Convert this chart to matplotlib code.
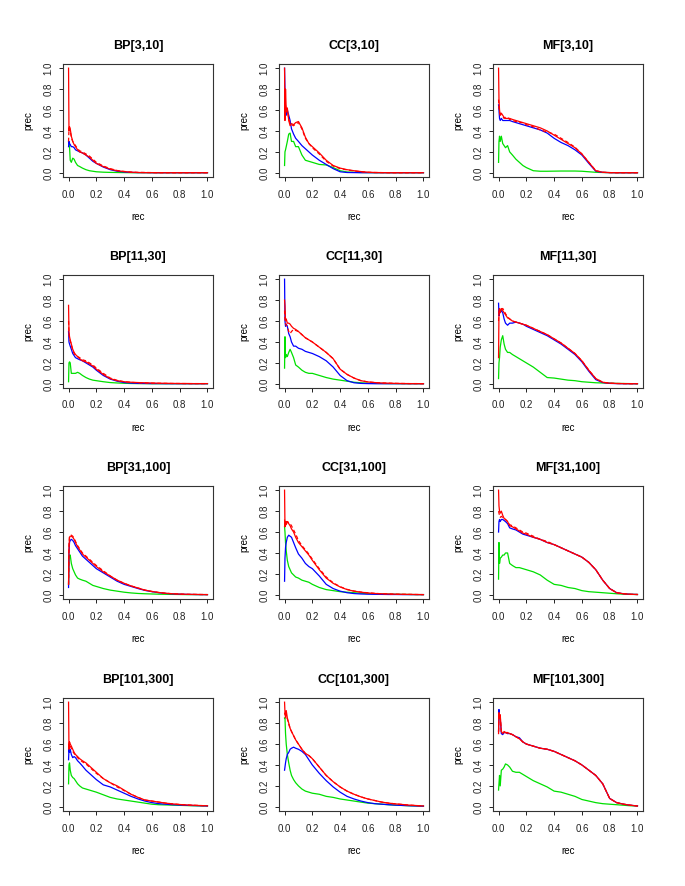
import matplotlib
matplotlib.use("Agg")
import matplotlib.pyplot as plt
import numpy as np

plt.rcParams['font.family'] = ['Liberation Sans', 'DejaVu Sans']

# recall grid shared by all curves
rec = [0, 0.003, 0.007, 0.012, 0.02, 0.03, 0.04, 0.05, 0.065, 0.08,
       0.1, 0.125, 0.15, 0.175, 0.2, 0.25, 0.3, 0.35, 0.4, 0.45,
       0.5, 0.55, 0.6, 0.65, 0.7, 0.75, 0.8, 0.85, 0.9, 0.95, 1.0]

titles = ["BP[3,10]", "CC[3,10]", "MF[3,10]",
          "BP[11,30]", "CC[11,30]", "MF[11,30]",
          "BP[31,100]", "CC[31,100]", "MF[31,100]",
          "BP[101,300]", "CC[101,300]", "MF[101,300]"]

# ---- BP[3,10]
bp3_blue = [0.25, 0.30, 0.28, 0.27, 0.25, 0.25, 0.24, 0.22, 0.21, 0.20,
            0.19, 0.17, 0.14, 0.11, 0.09, 0.055, 0.03, 0.015, 0.008, 0.004,
            0.002, 0.002, 0.001, 0.001, 0.001, 0.001, 0.001, 0.001, 0.001, 0.001, 0.001]
bp3_red = [1.0, 0.40, 0.44, 0.42, 0.35, 0.30, 0.27, 0.25, 0.22, 0.20,
           0.19, 0.17, 0.15, 0.12, 0.09, 0.06, 0.035, 0.02, 0.012, 0.006,
           0.003, 0.002, 0.002, 0.001, 0.001, 0.001, 0.001, 0.001, 0.001, 0.001, 0.001]
bp3_dash = [0.30, 0.42, 0.43, 0.40, 0.34, 0.30, 0.28, 0.26, 0.23, 0.21,
            0.20, 0.18, 0.16, 0.13, 0.10, 0.065, 0.04, 0.022, 0.013, 0.007,
            0.004, 0.003, 0.002, 0.001, 0.001, 0.001, 0.001, 0.001, 0.001, 0.001, 0.001]
bp3_green = [0.30, 0.28, 0.25, 0.12, 0.10, 0.14, 0.13, 0.10, 0.07, 0.06,
             0.045, 0.03, 0.02, 0.015, 0.01, 0.006, 0.004, 0.003, 0.002, 0.001,
             0.001, 0.001, 0.001, 0.001, 0.001, 0.001, 0.001, 0.001, 0.001, 0.001, 0.001]

# ---- CC[3,10]
cc3_blue = [1.0, 0.80, 0.60, 0.55, 0.60, 0.55, 0.50, 0.42, 0.37, 0.33,
            0.30, 0.26, 0.23, 0.20, 0.17, 0.12, 0.08, 0.04, 0.01, 0.003,
            0.002, 0.001, 0.001, 0.001, 0.001, 0.001, 0.001, 0.001, 0.001, 0.001, 0.001]
cc3_red = [1.0, 0.50, 0.80, 0.60, 0.62, 0.50, 0.45, 0.47, 0.46, 0.48,
           0.49, 0.43, 0.34, 0.28, 0.25, 0.19, 0.12, 0.07, 0.045, 0.03,
           0.02, 0.012, 0.006, 0.003, 0.002, 0.001, 0.001, 0.001, 0.001, 0.001, 0.001]
cc3_dash = [0.60, 0.60, 0.65, 0.58, 0.60, 0.52, 0.47, 0.46, 0.45, 0.47,
            0.48, 0.42, 0.33, 0.28, 0.24, 0.18, 0.11, 0.065, 0.04, 0.028,
            0.018, 0.01, 0.005, 0.003, 0.002, 0.001, 0.001, 0.001, 0.001, 0.001, 0.001]
cc3_green = [0.07, 0.20, 0.22, 0.25, 0.30, 0.37, 0.38, 0.30, 0.30, 0.25,
             0.25, 0.17, 0.12, 0.11, 0.10, 0.08, 0.075, 0.05, 0.02, 0.008,
             0.005, 0.003, 0.002, 0.001, 0.001, 0.001, 0.001, 0.001, 0.001, 0.001, 0.001]

# ---- MF[3,10]
mf3_blue = [0.65, 0.60, 0.52, 0.50, 0.52, 0.50, 0.50, 0.50, 0.50, 0.50,
            0.49, 0.48, 0.47, 0.46, 0.45, 0.43, 0.41, 0.38, 0.33, 0.29,
            0.26, 0.22, 0.17, 0.09, 0.015, 0.004, 0.002, 0.001, 0.001, 0.001, 0.001]
mf3_red = [1.0, 0.70, 0.60, 0.55, 0.57, 0.55, 0.53, 0.52, 0.52, 0.52,
           0.51, 0.50, 0.49, 0.48, 0.47, 0.45, 0.43, 0.40, 0.36, 0.32,
           0.28, 0.24, 0.18, 0.10, 0.02, 0.005, 0.002, 0.001, 0.001, 0.001, 0.001]
mf3_dash = [0.70, 0.62, 0.58, 0.56, 0.55, 0.54, 0.52, 0.53, 0.53, 0.51,
            0.50, 0.49, 0.48, 0.48, 0.46, 0.44, 0.41, 0.39, 0.37, 0.33,
            0.29, 0.245, 0.18, 0.10, 0.02, 0.005, 0.002, 0.001, 0.001, 0.001, 0.001]
mf3_green = [0.10, 0.30, 0.35, 0.30, 0.35, 0.28, 0.26, 0.24, 0.26, 0.20,
             0.17, 0.13, 0.10, 0.07, 0.05, 0.02, 0.015, 0.015, 0.016, 0.017,
             0.017, 0.017, 0.015, 0.01, 0.005, 0.003, 0.002, 0.001, 0.001, 0.001, 0.001]

# ---- BP[11,30]
bp11_blue = [0.50, 0.40, 0.38, 0.36, 0.33, 0.29, 0.27, 0.25, 0.24, 0.23,
             0.22, 0.20, 0.18, 0.16, 0.13, 0.08, 0.045, 0.025, 0.012, 0.007,
             0.004, 0.003, 0.002, 0.002, 0.001, 0.001, 0.001, 0.001, 0.001, 0.001, 0.001]
bp11_red = [0.75, 0.50, 0.45, 0.42, 0.38, 0.33, 0.30, 0.28, 0.26, 0.24,
            0.22, 0.21, 0.19, 0.17, 0.14, 0.09, 0.05, 0.03, 0.02, 0.015,
            0.012, 0.01, 0.008, 0.006, 0.005, 0.004, 0.003, 0.003, 0.002, 0.002, 0.002]
bp11_dash = [0.60, 0.48, 0.44, 0.41, 0.37, 0.32, 0.29, 0.27, 0.26, 0.25,
             0.23, 0.22, 0.20, 0.18, 0.15, 0.10, 0.055, 0.033, 0.02, 0.014,
             0.01, 0.008, 0.006, 0.005, 0.004, 0.003, 0.003, 0.002, 0.002, 0.002, 0.002]
bp11_green = [0.02, 0.20, 0.21, 0.20, 0.10, 0.10, 0.10, 0.10, 0.11, 0.10,
              0.08, 0.06, 0.045, 0.035, 0.03, 0.02, 0.012, 0.008, 0.005, 0.003,
              0.002, 0.002, 0.001, 0.001, 0.001, 0.001, 0.001, 0.001, 0.001, 0.001, 0.001]

# ---- CC[11,30]
cc11_blue = [1.0, 0.60, 0.55, 0.57, 0.55, 0.48, 0.45, 0.40, 0.36, 0.36,
             0.34, 0.33, 0.31, 0.30, 0.29, 0.26, 0.22, 0.16, 0.08, 0.03,
             0.01, 0.004, 0.002, 0.001, 0.001, 0.001, 0.001, 0.001, 0.001, 0.001, 0.001]
cc11_red = [0.80, 0.75, 0.60, 0.62, 0.58, 0.58, 0.57, 0.55, 0.53, 0.52,
            0.50, 0.47, 0.44, 0.42, 0.40, 0.35, 0.30, 0.24, 0.14, 0.09,
            0.055, 0.03, 0.018, 0.012, 0.008, 0.006, 0.004, 0.003, 0.002, 0.002, 0.001]
cc11_dash = [0.70, 0.62, 0.58, 0.56, 0.55, 0.50, 0.48, 0.50, 0.52, 0.51,
             0.50, 0.47, 0.44, 0.42, 0.40, 0.35, 0.30, 0.24, 0.14, 0.09,
             0.055, 0.03, 0.018, 0.012, 0.008, 0.006, 0.004, 0.003, 0.002, 0.002, 0.001]
cc11_green = [0.15, 0.45, 0.25, 0.28, 0.26, 0.30, 0.33, 0.30, 0.25, 0.18,
              0.16, 0.13, 0.11, 0.10, 0.10, 0.08, 0.06, 0.045, 0.035, 0.025,
              0.015, 0.01, 0.006, 0.004, 0.003, 0.002, 0.002, 0.001, 0.001, 0.001, 0.001]

# ---- MF[11,30]
mf11_blue = [0.77, 0.65, 0.70, 0.68, 0.70, 0.68, 0.62, 0.58, 0.56, 0.58,
             0.58, 0.59, 0.58, 0.57, 0.55, 0.52, 0.49, 0.46, 0.42, 0.38,
             0.33, 0.28, 0.21, 0.12, 0.04, 0.012, 0.004, 0.002, 0.001, 0.001, 0.001]
mf11_red = [0.25, 0.70, 0.72, 0.68, 0.72, 0.70, 0.68, 0.66, 0.63, 0.62,
            0.60, 0.59, 0.58, 0.57, 0.56, 0.53, 0.50, 0.47, 0.43, 0.39,
            0.34, 0.29, 0.22, 0.13, 0.05, 0.015, 0.006, 0.003, 0.002, 0.001, 0.001]
mf11_dash = [0.60, 0.68, 0.70, 0.70, 0.71, 0.72, 0.70, 0.67, 0.64, 0.62,
             0.60, 0.59, 0.58, 0.57, 0.56, 0.53, 0.50, 0.47, 0.43, 0.39,
             0.34, 0.29, 0.22, 0.13, 0.05, 0.015, 0.006, 0.003, 0.002, 0.001, 0.001]
mf11_green = [0.05, 0.20, 0.25, 0.35, 0.42, 0.46, 0.38, 0.33, 0.30, 0.30,
              0.28, 0.26, 0.24, 0.22, 0.20, 0.16, 0.11, 0.06, 0.055, 0.045,
              0.035, 0.03, 0.02, 0.015, 0.01, 0.008, 0.006, 0.004, 0.003, 0.002, 0.001]

# ---- BP[31,100]
bp31_blue = [0.07, 0.40, 0.50, 0.52, 0.53, 0.52, 0.50, 0.47, 0.44, 0.41,
             0.37, 0.34, 0.31, 0.28, 0.25, 0.21, 0.17, 0.13, 0.10, 0.08,
             0.06, 0.042, 0.03, 0.02, 0.013, 0.009, 0.006, 0.004, 0.003, 0.002, 0.002]
bp31_red = [0.10, 0.45, 0.55, 0.56, 0.56, 0.55, 0.53, 0.50, 0.46, 0.43,
            0.39, 0.36, 0.33, 0.30, 0.27, 0.22, 0.18, 0.14, 0.11, 0.085,
            0.065, 0.045, 0.032, 0.022, 0.015, 0.01, 0.007, 0.005, 0.004, 0.003, 0.002]
bp31_dash = [0.10, 0.48, 0.56, 0.57, 0.57, 0.56, 0.54, 0.51, 0.47, 0.44,
             0.40, 0.37, 0.34, 0.31, 0.28, 0.23, 0.18, 0.14, 0.11, 0.085,
             0.065, 0.045, 0.032, 0.022, 0.015, 0.01, 0.007, 0.005, 0.004, 0.003, 0.002]
bp31_green = [0.10, 0.35, 0.38, 0.38, 0.30, 0.25, 0.22, 0.19, 0.16, 0.15,
              0.14, 0.13, 0.11, 0.09, 0.08, 0.06, 0.045, 0.035, 0.025, 0.018,
              0.013, 0.01, 0.008, 0.006, 0.005, 0.004, 0.003, 0.002, 0.002, 0.002, 0.002]

# ---- CC[31,100]
cc31_blue = [0.13, 0.35, 0.45, 0.50, 0.55, 0.57, 0.56, 0.55, 0.50, 0.45,
             0.39, 0.35, 0.30, 0.27, 0.25, 0.18, 0.10, 0.06, 0.035, 0.02,
             0.012, 0.008, 0.006, 0.005, 0.004, 0.003, 0.003, 0.002, 0.002, 0.002, 0.002]
cc31_red = [1.0, 0.65, 0.70, 0.67, 0.70, 0.68, 0.66, 0.63, 0.60, 0.55,
            0.50, 0.46, 0.42, 0.38, 0.33, 0.24, 0.16, 0.11, 0.075, 0.05,
            0.035, 0.025, 0.018, 0.013, 0.01, 0.008, 0.006, 0.005, 0.004, 0.003, 0.002]
cc31_dash = [0.72, 0.68, 0.70, 0.70, 0.70, 0.69, 0.68, 0.66, 0.62, 0.58,
             0.52, 0.47, 0.43, 0.39, 0.34, 0.25, 0.17, 0.115, 0.078, 0.052,
             0.036, 0.026, 0.019, 0.014, 0.01, 0.008, 0.006, 0.005, 0.004, 0.003, 0.002]
cc31_green = [0.65, 0.60, 0.50, 0.42, 0.33, 0.27, 0.24, 0.21, 0.19, 0.17,
              0.16, 0.14, 0.13, 0.12, 0.10, 0.07, 0.05, 0.04, 0.03, 0.025,
              0.02, 0.015, 0.012, 0.01, 0.008, 0.006, 0.005, 0.004, 0.003, 0.002, 0.002]

# ---- MF[31,100]
mf31_blue = [0.60, 0.70, 0.72, 0.70, 0.72, 0.72, 0.71, 0.70, 0.68, 0.64,
             0.63, 0.62, 0.60, 0.58, 0.57, 0.55, 0.53, 0.50, 0.48, 0.45,
             0.42, 0.39, 0.36, 0.31, 0.24, 0.14, 0.06, 0.02, 0.01, 0.005, 0.003]
mf31_red = [1.0, 0.85, 0.80, 0.78, 0.80, 0.76, 0.73, 0.72, 0.70, 0.66,
            0.65, 0.63, 0.61, 0.59, 0.58, 0.55, 0.53, 0.50, 0.48, 0.45,
            0.42, 0.39, 0.36, 0.31, 0.24, 0.14, 0.06, 0.02, 0.01, 0.005, 0.003]
mf31_dash = [0.80, 0.78, 0.76, 0.74, 0.75, 0.74, 0.73, 0.72, 0.70, 0.67,
             0.66, 0.64, 0.62, 0.60, 0.59, 0.56, 0.53, 0.51, 0.48, 0.45,
             0.42, 0.39, 0.36, 0.31, 0.24, 0.14, 0.06, 0.02, 0.01, 0.005, 0.003]
mf31_green = [0.15, 0.50, 0.30, 0.35, 0.36, 0.38, 0.38, 0.40, 0.40, 0.30,
              0.28, 0.26, 0.26, 0.25, 0.24, 0.22, 0.19, 0.14, 0.10, 0.09,
              0.07, 0.06, 0.04, 0.03, 0.025, 0.02, 0.015, 0.01, 0.006, 0.004, 0.003]

# ---- BP[101,300]
bp101_blue = [0.45, 0.55, 0.52, 0.55, 0.50, 0.47, 0.48, 0.47, 0.44, 0.42,
              0.39, 0.35, 0.32, 0.29, 0.26, 0.21, 0.19, 0.16, 0.13, 0.10,
              0.075, 0.055, 0.04, 0.03, 0.025, 0.02, 0.017, 0.014, 0.012, 0.01, 0.008]
bp101_red = [1.0, 0.55, 0.62, 0.60, 0.58, 0.55, 0.52, 0.50, 0.48, 0.46,
             0.44, 0.42, 0.39, 0.36, 0.33, 0.27, 0.23, 0.20, 0.16, 0.12,
             0.09, 0.065, 0.055, 0.045, 0.035, 0.028, 0.022, 0.018, 0.015, 0.012, 0.01]
bp101_dash = [0.60, 0.58, 0.60, 0.58, 0.56, 0.53, 0.51, 0.49, 0.47, 0.45,
              0.43, 0.41, 0.38, 0.35, 0.32, 0.27, 0.23, 0.19, 0.155, 0.12,
              0.09, 0.065, 0.055, 0.045, 0.035, 0.028, 0.022, 0.018, 0.015, 0.012, 0.01]
bp101_green = [0.22, 0.40, 0.42, 0.35, 0.30, 0.28, 0.27, 0.25, 0.22, 0.20,
               0.18, 0.17, 0.16, 0.15, 0.14, 0.115, 0.09, 0.075, 0.065, 0.055,
               0.045, 0.035, 0.025, 0.02, 0.018, 0.016, 0.014, 0.012, 0.01, 0.009, 0.008]

# ---- CC[101,300]
cc101_blue = [0.35, 0.38, 0.42, 0.46, 0.50, 0.52, 0.55, 0.56, 0.57, 0.56,
              0.55, 0.53, 0.50, 0.45, 0.40, 0.32, 0.25, 0.19, 0.14, 0.10,
              0.075, 0.055, 0.04, 0.03, 0.025, 0.02, 0.016, 0.013, 0.01, 0.008, 0.006]
cc101_red = [1.0, 0.90, 0.85, 0.92, 0.85, 0.80, 0.75, 0.72, 0.68, 0.64,
             0.60, 0.55, 0.51, 0.49, 0.46, 0.38, 0.30, 0.24, 0.19, 0.15,
             0.12, 0.095, 0.075, 0.06, 0.045, 0.035, 0.028, 0.022, 0.016, 0.012, 0.008]
cc101_dash = [0.90, 0.88, 0.88, 0.86, 0.84, 0.79, 0.75, 0.72, 0.68, 0.64,
              0.60, 0.55, 0.51, 0.49, 0.46, 0.38, 0.30, 0.24, 0.19, 0.15,
              0.12, 0.095, 0.075, 0.06, 0.045, 0.035, 0.028, 0.022, 0.016, 0.012, 0.008]
cc101_green = [0.85, 0.85, 0.70, 0.60, 0.50, 0.42, 0.35, 0.30, 0.26, 0.23,
               0.20, 0.17, 0.15, 0.14, 0.13, 0.12, 0.10, 0.09, 0.075, 0.065,
               0.055, 0.045, 0.035, 0.03, 0.025, 0.02, 0.016, 0.013, 0.01, 0.008, 0.006]

# ---- MF[101,300]
mf101_blue = [0.72, 0.93, 0.86, 0.85, 0.70, 0.69, 0.71, 0.71, 0.70, 0.70,
              0.69, 0.67, 0.66, 0.62, 0.60, 0.58, 0.56, 0.55, 0.53, 0.50,
              0.47, 0.44, 0.40, 0.35, 0.30, 0.22, 0.08, 0.04, 0.025, 0.015, 0.008]
mf101_red = [0.70, 0.90, 0.85, 0.88, 0.72, 0.70, 0.72, 0.71, 0.71, 0.70,
             0.69, 0.67, 0.65, 0.62, 0.60, 0.58, 0.56, 0.55, 0.53, 0.50,
             0.47, 0.44, 0.40, 0.35, 0.30, 0.22, 0.08, 0.04, 0.025, 0.015, 0.008]
mf101_dash = [0.72, 0.88, 0.86, 0.86, 0.72, 0.71, 0.71, 0.71, 0.70, 0.70,
              0.69, 0.67, 0.65, 0.62, 0.60, 0.58, 0.56, 0.55, 0.53, 0.50,
              0.47, 0.44, 0.40, 0.35, 0.30, 0.22, 0.08, 0.04, 0.025, 0.015, 0.008]
mf101_green = [0.16, 0.22, 0.30, 0.20, 0.35, 0.36, 0.38, 0.41, 0.40, 0.38,
               0.34, 0.33, 0.33, 0.31, 0.29, 0.25, 0.22, 0.19, 0.15, 0.14,
               0.12, 0.10, 0.07, 0.055, 0.04, 0.03, 0.025, 0.02, 0.015, 0.01, 0.008]

panels = [
    (bp3_blue, bp3_red, bp3_dash, bp3_green),
    (cc3_blue, cc3_red, cc3_dash, cc3_green),
    (mf3_blue, mf3_red, mf3_dash, mf3_green),
    (bp11_blue, bp11_red, bp11_dash, bp11_green),
    (cc11_blue, cc11_red, cc11_dash, cc11_green),
    (mf11_blue, mf11_red, mf11_dash, mf11_green),
    (bp31_blue, bp31_red, bp31_dash, bp31_green),
    (cc31_blue, cc31_red, cc31_dash, cc31_green),
    (mf31_blue, mf31_red, mf31_dash, mf31_green),
    (bp101_blue, bp101_red, bp101_dash, bp101_green),
    (cc101_blue, cc101_red, cc101_dash, cc101_green),
    (mf101_blue, mf101_red, mf101_dash, mf101_green),
]

W, H = 685, 886
fig = plt.figure(figsize=(W / 100, H / 100), dpi=100)

col_left = [63, 279, 493]
row_top = [64, 275, 486, 698]
aw, ah = 150, 113
ticks = [0.0, 0.2, 0.4, 0.6, 0.8, 1.0]

for i, (blue, red, dash, green) in enumerate(panels):
    r, c = divmod(i, 3)
    ax = fig.add_axes([col_left[c] / W, 1 - (row_top[r] + ah) / H, aw / W, ah / H])
    ax.plot(rec, green, color='#00e000', lw=0.9)
    ax.plot(rec, blue, color='#0000ff', lw=0.9)
    ax.plot(rec, dash, color='#ff0000', lw=0.9, ls=(0, (3, 2)))
    ax.plot(rec, red, color='#ff0000', lw=0.9)
    ax.set_xlim(-0.04, 1.04)
    ax.set_ylim(-0.04, 1.04)
    ax.set_xticks(ticks)
    ax.set_yticks(ticks)
    ax.set_xticklabels([f"{t:.1f}" for t in ticks])
    ax.set_yticklabels([f"{t:.1f}" for t in ticks], rotation=90, va='center')
    ax.tick_params(direction='out', length=3, width=0.7, labelsize=7, colors='#222222')
    ax.tick_params(axis='x', pad=6)
    ax.tick_params(axis='y', pad=4)
    for s in ax.spines.values():
        s.set_linewidth(0.8)
        s.set_color('#333333')
    ax.set_title(titles[i], fontsize=9, fontweight='bold', pad=11)
    ax.set_xlabel("rec", fontsize=7, labelpad=9)
    ax.set_ylabel("prec", fontsize=7, labelpad=7)

fig.savefig("out.png", dpi=100)
